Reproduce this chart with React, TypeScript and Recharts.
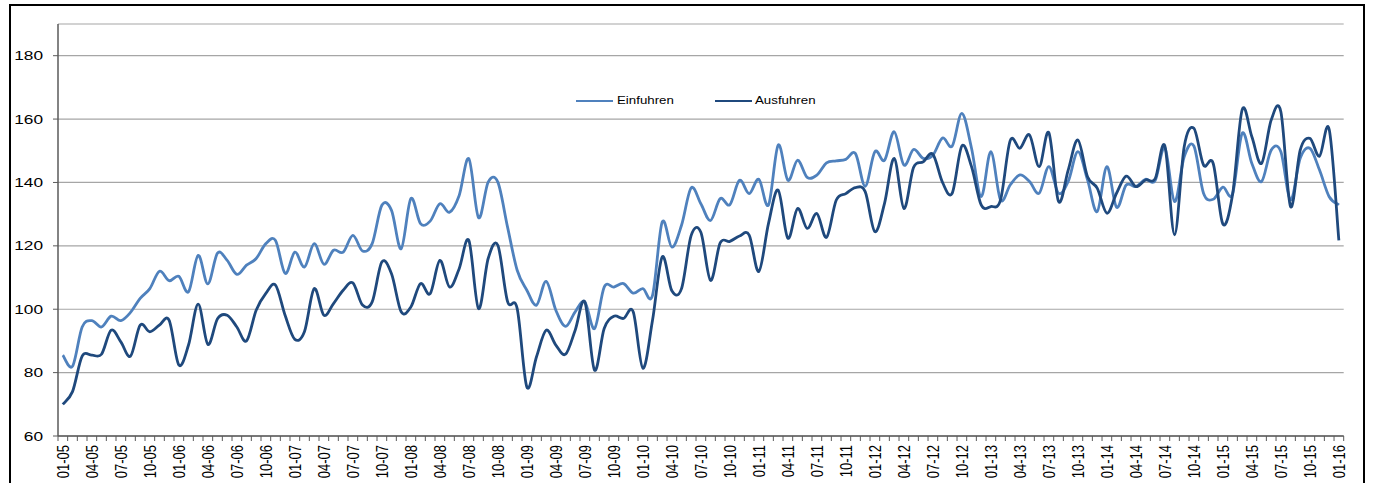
import React from 'react';
import { LineChart, Line, XAxis, YAxis, CartesianGrid } from 'recharts';

const years = ['05', '06', '07', '08', '09', '10', '11', '12', '13', '14', '15'];
const months = ['01', '02', '03', '04', '05', '06', '07', '08', '09', '10', '11', '12'];
const lastCategory = '01-16';

const einfuhren = [
  85.5, 82, 94.4, 96.4, 94.4, 97.8, 96.4, 99, 103.4, 106.5, 112, 109,
  110.4, 105.5, 117, 108, 117.7, 115.4, 111, 113.9, 116, 120.7, 121.7, 111.3,
  118, 113.3, 120.7, 114.2, 118.6, 118, 123.3, 118.4, 120.7, 132.8, 131.2, 119.1,
  134.9, 127, 127.8, 133.3, 130.6, 135.9, 147.5, 128.9, 140.1, 140.1, 126, 112.3,
  106, 101.3, 108.8, 99.7, 94.6, 99.2, 102.3, 93.9, 107, 107, 108.1, 105.1,
  106.5, 104.4, 127.5, 119.6, 126.5, 138.3, 133.3, 128, 134.9, 133, 140.7, 136.5,
  141, 132.9, 151.8, 140.7, 147, 141.6, 142.3, 146.2, 146.8, 147.3, 149.1, 138.8,
  149.7, 147, 156, 145.5, 150.4, 147.6, 148.6, 154, 151.5, 161.8, 150.8, 135.5,
  149.7, 134.5, 139.2, 142.4, 140.3, 136.6, 145, 136.6, 140.3, 149.7, 140.8, 130.8,
  145, 132.2, 139.2, 138.7, 141, 140.6, 151, 134, 148.1, 151.5, 136.6, 134.7,
  138.5, 136.4, 155.5, 146, 140.3, 150.2, 149.7, 134.5, 147.6, 150.8, 143.9, 135.5,
  132.9,
];

const ausfuhren = [
  70, 74, 85.2, 85.5, 85.8, 93.4, 89.7, 85.2, 95, 92.9, 95, 96.5,
  82.4, 88.7, 101.6, 88.9, 97, 98.1, 94.4, 90, 99.7, 105, 107.6, 98,
  90.5, 93, 106.5, 98.1, 101.8, 106, 108.3, 101.3, 102.3, 114.9, 111.2, 99.2,
  100.7, 108.1, 104.9, 115.4, 107, 112.8, 121.7, 100.2, 116, 120.2, 102.5, 100.2,
  75.5, 85, 93.4, 88.7, 85.8, 93.4, 102.3, 80.8, 93.9, 97.8, 97.1, 99.2,
  81.4, 96.5, 116.5, 105.8, 106.5, 123.3, 124.3, 109.1, 120.9, 121.4, 123.1, 123.4,
  111.9, 127.1, 137.6, 122.4, 131.8, 125.5, 130.2, 122.7, 134.4, 136.5, 138.4, 137.1,
  124.5, 133.4, 147.6, 131.8, 144.7, 146.5, 148.9, 140, 136.6, 151.5, 145, 132.9,
  132.4, 134.5, 153.2, 150.8, 155, 145, 155.7, 134, 143.9, 153.4, 141.8, 138.2,
  130.3, 136.6, 142, 138.7, 140.8, 141.2, 151.5, 123.5, 151.3, 157.1, 145.5, 146,
  126.9, 136.1, 163, 154.4, 146, 159.7, 162.3, 132.4, 150.2, 153.9, 148.3, 156.7,
  121.7,
];

const yTicks = [60, 80, 100, 120, 140, 160, 180];

const categories: string[] = [];
years.forEach((yy) => months.forEach((mm) => categories.push(`${mm}-${yy}`)));
categories.push(lastCategory);

const data = categories.map((c, i) => ({ month: c, Einfuhren: einfuhren[i], Ausfuhren: ausfuhren[i] }));

const W = 1373;
const H = 483;
const PLOT_LEFT = 58;
const PLOT_RIGHT = 1343.7;
const HALF = (PLOT_RIGHT - PLOT_LEFT) / categories.length / 2;
const FONT = '"Liberation Sans", Arial, sans-serif';
const SX = 1.33;
const LIGHT = '#4F81BD';
const DARK = '#1F497D';
const AXIS = '#5a5a5a';

// Catmull-Rom style smoothing similar to Excel smoothed lines
const smoothCurve: any = (context: any) => {
  let pts: number[][] = [];
  return {
    areaStart() {},
    areaEnd() {},
    lineStart() { pts = []; },
    lineEnd() {
      if (!pts.length) return;
      context.moveTo(pts[0][0], pts[0][1]);
      for (let i = 0; i < pts.length - 1; i++) {
        const p0 = pts[i - 1] || pts[i];
        const p1 = pts[i];
        const p2 = pts[i + 1];
        const p3 = pts[i + 2] || p2;
        context.bezierCurveTo(
          p1[0] + (p2[0] - p0[0]) / 6, p1[1] + (p2[1] - p0[1]) / 6,
          p2[0] - (p3[0] - p1[0]) / 6, p2[1] - (p3[1] - p1[1]) / 6,
          p2[0], p2[1]
        );
      }
    },
    point(x: number, y: number) { pts.push([+x, +y]); },
  };
};

const XTick = (props: any) => {
  const { x, y, payload, index } = props;
  const last = index === categories.length - 1;
  return (
    <g>
      <line x1={x - HALF} x2={x - HALF} y1={y} y2={y + 5} stroke={AXIS} strokeWidth={1} />
      {last && <line x1={x + HALF} x2={x + HALF} y1={y} y2={y + 5} stroke={AXIS} strokeWidth={1} />}
      {index % 3 === 0 && (
        <text
          transform={`translate(${x + 6.2},${y + 9}) scale(${SX},1) rotate(-90)`}
          textAnchor="end"
          fontSize={13}
          fontFamily={FONT}
          fill="#000"
        >
          {payload.value}
        </text>
      )}
    </g>
  );
};

const YTick = (props: any) => {
  const { y, payload } = props;
  return (
    <g transform={`translate(43,${y})`}>
      <text transform={`scale(${SX},1)`} textAnchor="end" dy={4.6} fontSize={13} fontFamily={FONT} fill="#000">
        {payload.value}
      </text>
    </g>
  );
};

const LegendOverlay = () => (
  <svg width={W} height={H} style={{ position: 'absolute', left: 0, top: 0, pointerEvents: 'none' }}>
    <line x1={576} x2={613} y1={101} y2={101} stroke={LIGHT} strokeWidth={2} />
    <g transform="translate(617,104)">
      <text transform={`scale(${SX},1)`} fontSize={10} fontFamily={FONT} fill="#000">Einfuhren</text>
    </g>
    <line x1={715} x2={752} y1={101} y2={101} stroke={DARK} strokeWidth={2} />
    <g transform="translate(755,104)">
      <text transform={`scale(${SX},1)`} fontSize={10} fontFamily={FONT} fill="#000">Ausfuhren</text>
    </g>
  </svg>
);

export default function App() {
  return (
    <div style={{ position: 'absolute', left: 0, top: 0, width: W, height: H, overflow: 'hidden', background: '#fff' }}>
      <LineChart
        width={W}
        height={H}
        data={data}
        margin={{ top: 24, right: W - PLOT_RIGHT, bottom: 0, left: 8 }}
      >
        <CartesianGrid vertical={false} stroke="#a6a6a6" strokeWidth={1.2} />
        <XAxis
          dataKey="month"
          interval={0}
          height={H - 436}
          padding={{ left: HALF, right: HALF }}
          tickLine={false}
          tickSize={0}
          tickMargin={0}
          tick={<XTick />}
          axisLine={{ stroke: AXIS, strokeWidth: 1.5 }}
        />
        <YAxis
          width={50}
          domain={[60, 190]}
          ticks={yTicks}
          allowDataOverflow
          tick={<YTick />}
          tickLine={{ stroke: AXIS }}
          tickSize={5}
          axisLine={{ stroke: AXIS, strokeWidth: 1.5 }}
        />
        <Line
          dataKey="Einfuhren"
          type={smoothCurve}
          stroke={LIGHT}
          strokeWidth={2.8}
          dot={false}
          activeDot={false}
          isAnimationActive={false}
        />
        <Line
          dataKey="Ausfuhren"
          type={smoothCurve}
          stroke={DARK}
          strokeWidth={2.8}
          dot={false}
          activeDot={false}
          isAnimationActive={false}
        />
      </LineChart>
      <LegendOverlay />
      <div
        style={{
          position: 'absolute',
          left: 9,
          top: 4,
          width: 1356,
          height: 520,
          border: '2px solid #000',
          boxSizing: 'border-box',
          pointerEvents: 'none',
        }}
      />
    </div>
  );
}
